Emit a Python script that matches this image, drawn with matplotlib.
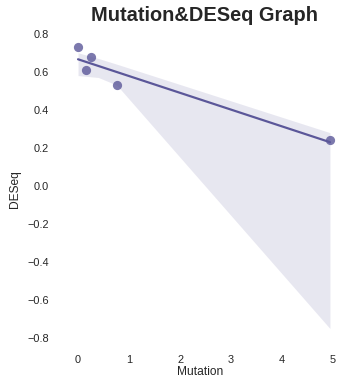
import numpy as np
import matplotlib
matplotlib.use("Agg")
import matplotlib.pyplot as plt
import seaborn as sns

# datos
mutation = [0.0, 0.25, 0.16, 0.76, 4.94]
deseq = [0.73, 0.68, 0.61, 0.53, 0.24]

# banda de confianza (bootstrap)
ci_x = [0.0, 0.4, 0.76, 4.94]
ci_low = [0.58, 0.57, 0.53, -0.75]
ci_high = [0.70, 0.67, 0.64, 0.28]

sns.set_style("white")
plt.rcParams['font.family'] = ['Liberation Sans', 'DejaVu Sans']

color = '#5b5799'

fig = plt.figure(figsize=(362 / 72, 384 / 72), dpi=72)
ax = fig.add_axes([0.155, 0.095, 0.798, 0.827])

# ajuste lineal
pendiente, intercepto = np.polyfit(mutation, deseq, 1)
xs = np.linspace(min(mutation), max(mutation), 100)
ax.fill_between(ci_x, ci_low, ci_high, color=color, alpha=0.14, linewidth=0)
ax.plot(xs, intercepto + pendiente * xs, color=color, lw=2.2)
ax.scatter(mutation, deseq, color=color, alpha=0.8, s=85, linewidths=0)

ax.set_xlim(-0.43, 5.235)
ax.set_ylim(-0.85, 0.82)
ax.set_yticks(np.arange(-0.8, 0.81, 0.2))
ax.set_xticks(range(0, 6))
ax.tick_params(labelsize=11, colors='#262626', pad=4)
for s in ax.spines.values():
    s.set_visible(False)

ax.set_xlabel('Mutation', fontsize=12, labelpad=1)
ax.set_ylabel('DESeq', fontsize=12, labelpad=6)
fig.suptitle('Mutation&DESeq Graph', fontsize=20, fontweight='bold', x=0.565, y=0.985)

plt.savefig('out.png', dpi=72)
